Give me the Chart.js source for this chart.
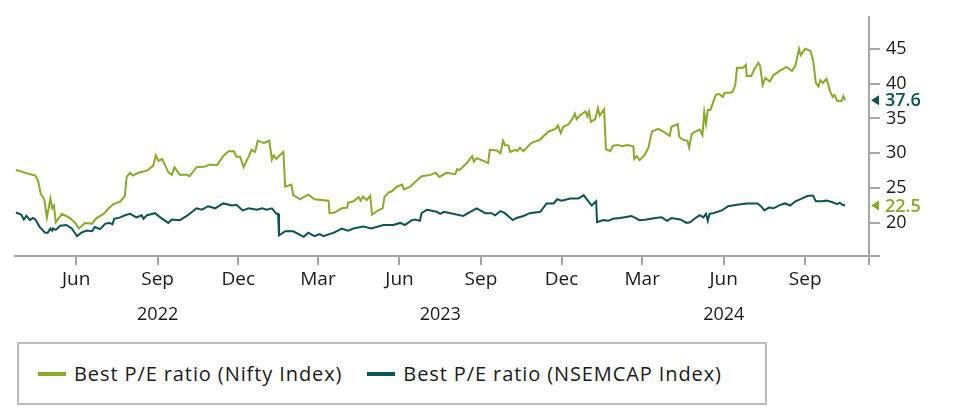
<!DOCTYPE html>
<html>
<head>
<meta charset="utf-8">
<script src="https://cdn.jsdelivr.net/npm/chart.js@4.4.1/dist/chart.umd.min.js"></script>
<style>
  html, body { margin: 0; padding: 0; background: #fff; }
  body { width: 953px; height: 417px; position: relative; overflow: hidden; font-family: "Open Sans", sans-serif; }
  #wrap { position: absolute; left: 0; top: 0; width: 953px; height: 335px; }
  .legend {
    position: absolute; left: 17px; top: 342px; width: 750px; height: 63px;
    box-sizing: border-box; border: 2px solid #bdbdbd;
    display: flex; align-items: center; padding-left: 19px;
    font-size: 20px; letter-spacing: 0.9px; color: #1a1a1a;
  }
  .legend .item { display: flex; align-items: center; margin-right: 25px; white-space: nowrap; }
  .legend .sw { width: 28px; height: 4px; margin-right: 8px; }
</style>
</head>
<body>
<div id="wrap"><canvas id="chart"></canvas></div>
<div class="legend">
  <div class="item"><span class="sw" style="background:#89aa28"></span>Best P/E ratio (Nifty Index)</div>
  <div class="item"><span class="sw" style="background:#0b5354"></span>Best P/E ratio (NSEMCAP Index)</div>
</div>
<script>
const GREEN = '#89aa28';
const TEAL = '#0b5354';

// Best P/E ratio (Nifty Index)
const niftyDates = [
  '2022-03-25','2022-04-02','2022-04-10','2022-04-16','2022-04-19','2022-04-22','2022-04-26','2022-04-29',
  '2022-05-03','2022-05-05','2022-05-07','2022-05-09','2022-05-16','2022-05-25','2022-05-31','2022-06-04',
  '2022-06-11','2022-06-19','2022-06-24','2022-07-02','2022-07-07','2022-07-13','2022-07-21','2022-07-26',
  '2022-07-28','2022-08-01','2022-08-04','2022-08-10','2022-08-20','2022-08-27','2022-08-30','2022-09-02',
  '2022-09-06','2022-09-13','2022-09-17','2022-09-20','2022-09-26','2022-10-04','2022-10-07','2022-10-15',
  '2022-10-25','2022-10-30','2022-11-07','2022-11-14','2022-11-20','2022-11-26','2022-11-29','2022-12-03',
  '2022-12-07','2022-12-13','2022-12-16','2022-12-20','2022-12-23','2022-12-30','2023-01-05','2023-01-08',
  '2023-01-10','2023-01-13','2023-01-16','2023-01-21','2023-01-23','2023-01-30','2023-02-01','2023-02-09',
  '2023-02-18','2023-02-25','2023-03-13','2023-03-14','2023-03-20','2023-03-28','2023-04-03','2023-04-04',
  '2023-04-10','2023-04-16','2023-04-18','2023-04-21','2023-04-25','2023-04-29','2023-05-01','2023-05-08',
  '2023-05-13','2023-05-15','2023-05-20','2023-05-23','2023-05-29','2023-06-04','2023-06-06','2023-06-13',
  '2023-06-19','2023-06-26','2023-07-06','2023-07-12','2023-07-16','2023-07-24','2023-08-03','2023-08-05',
  '2023-08-08','2023-08-16','2023-08-22','2023-08-24','2023-08-27','2023-09-04','2023-09-09','2023-09-11',
  '2023-09-19','2023-09-23','2023-09-26','2023-09-28','2023-10-02','2023-10-04','2023-10-10','2023-10-12',
  '2023-10-15','2023-10-19','2023-10-28','2023-11-06','2023-11-16','2023-11-24','2023-11-27','2023-11-30',
  '2023-12-03','2023-12-09','2023-12-13','2023-12-16','2023-12-18','2023-12-22','2023-12-28','2023-12-30',
  '2024-01-01','2024-01-03','2024-01-08','2024-01-11','2024-01-13','2024-01-18','2024-01-20','2024-01-25',
  '2024-01-28','2024-02-03','2024-02-07','2024-02-13','2024-02-20','2024-02-21','2024-02-24','2024-02-27',
  '2024-03-04','2024-03-08','2024-03-10','2024-03-12','2024-03-19','2024-03-25','2024-04-01','2024-04-03',
  '2024-04-10','2024-04-12','2024-04-17','2024-04-21','2024-04-23','2024-04-26','2024-04-30','2024-05-05',
  '2024-05-08','2024-05-10','2024-05-12','2024-05-14','2024-05-17','2024-05-20','2024-05-23','2024-05-27',
  '2024-05-31','2024-06-02','2024-06-08','2024-06-11','2024-06-14','2024-06-16','2024-06-23','2024-06-26',
  '2024-06-27','2024-07-02','2024-07-05','2024-07-10','2024-07-12','2024-07-15','2024-07-18','2024-07-23',
  '2024-07-27','2024-08-04','2024-08-11','2024-08-14','2024-08-17','2024-08-21','2024-08-25','2024-08-27',
  '2024-09-01','2024-09-07','2024-09-10','2024-09-13','2024-09-16','2024-09-18','2024-09-21','2024-09-25',
  '2024-09-27','2024-09-29','2024-10-02','2024-10-04','2024-10-07','2024-10-12','2024-10-14','2024-10-16'
];
const niftyValues = [
  27.6,27.3,27.0,26.8,26.1,24.2,23.4,20.8,
  23.5,22.1,22.5,20.1,21.3,20.7,20.0,19.2,
  20.0,19.9,20.7,21.3,22.0,22.7,23.1,23.9,
  26.6,27.2,26.8,27.2,27.5,28.2,29.7,28.9,
  29.2,27.3,26.9,28.0,26.9,26.9,26.7,28.0,
  28.1,28.4,28.3,29.6,30.3,30.3,29.5,29.5,
  28.0,29.6,30.5,30.2,31.8,31.5,31.8,29.1,
  29.7,29.2,29.6,30.2,25.2,25.5,24.0,23.4,
  24.1,23.4,23.2,21.4,21.5,22.1,22.2,22.9,
  23.1,23.7,23.2,23.8,23.3,23.9,21.2,21.8,
  22.1,23.7,24.4,24.5,25.2,25.5,24.8,25.2,
  25.9,26.7,26.9,27.2,26.6,27.2,27.0,27.7,
  27.6,28.6,29.6,28.8,29.3,28.9,28.6,30.5,
  30.4,30.0,31.8,31.2,31.1,30.2,30.5,30.3,
  30.8,30.3,31.5,31.9,33.1,33.5,34.0,32.9,
  33.8,34.2,34.9,35.7,34.9,35.5,36.0,35.3,
  36.0,34.5,34.9,36.5,35.4,36.3,30.6,30.3,
  31.1,31.2,31.0,31.2,31.0,29.2,29.6,29.0,
  29.8,30.8,32.0,33.1,33.5,33.1,32.5,33.8,
  34.2,32.3,31.9,31.8,30.8,32.8,33.1,33.4,
  32.6,35.9,34.2,36.2,36.2,37.3,38.4,38.5,
  38.1,38.7,38.7,38.8,39.8,42.3,42.3,42.7,
  41.1,41.1,41.9,43.0,42.6,39.8,40.8,40.3,
  41.2,41.9,42.4,42.1,41.8,42.6,45.0,44.1,
  45.0,44.7,43.3,40.1,39.6,40.5,40.1,40.7,
  39.9,38.9,38.1,38.4,37.5,37.5,38.2,37.6
];

// Best P/E ratio (NSEMCAP Index)
const midcapDates = [
  '2022-03-25','2022-03-31','2022-04-03','2022-04-06','2022-04-10','2022-04-13','2022-04-16','2022-04-21',
  '2022-04-27','2022-04-30','2022-05-03','2022-05-05','2022-05-06','2022-05-09','2022-05-14','2022-05-21',
  '2022-05-27','2022-06-02','2022-06-07','2022-06-13','2022-06-19','2022-06-22','2022-06-28','2022-07-04',
  '2022-07-09','2022-07-12','2022-07-14','2022-07-21','2022-07-26','2022-08-01','2022-08-08','2022-08-14',
  '2022-08-16','2022-08-20','2022-08-29','2022-09-04','2022-09-13','2022-09-17','2022-09-26','2022-10-04',
  '2022-10-15','2022-10-21','2022-10-28','2022-11-05','2022-11-14','2022-11-24','2022-11-29','2022-12-06',
  '2022-12-13','2022-12-22','2022-12-28','2023-01-02','2023-01-08','2023-01-13','2023-01-15','2023-01-16',
  '2023-01-23','2023-02-01','2023-02-13','2023-02-18','2023-02-25','2023-03-03','2023-03-07','2023-03-19',
  '2023-03-28','2023-04-04','2023-04-10','2023-04-21','2023-04-30','2023-05-14','2023-05-25','2023-06-02',
  '2023-06-07','2023-06-15','2023-06-19','2023-06-24','2023-06-26','2023-07-02','2023-07-13','2023-07-17',
  '2023-07-21','2023-08-12','2023-08-27','2023-09-06','2023-09-13','2023-09-17','2023-09-23','2023-09-28',
  '2023-10-07','2023-10-11','2023-10-19','2023-10-26','2023-11-07','2023-11-14','2023-11-22','2023-11-26',
  '2023-12-01','2023-12-11','2023-12-20','2023-12-26','2023-12-30','2024-01-04','2024-01-09','2024-01-10',
  '2024-01-17','2024-01-23','2024-01-28','2024-02-05','2024-02-10','2024-02-18','2024-02-27','2024-03-06',
  '2024-03-16','2024-03-23','2024-03-29','2024-04-03','2024-04-13','2024-04-20','2024-04-24','2024-04-30',
  '2024-05-05','2024-05-09','2024-05-12','2024-05-14','2024-05-16','2024-05-20','2024-05-30','2024-06-06',
  '2024-06-16','2024-06-27','2024-07-05','2024-07-09','2024-07-13','2024-07-17','2024-07-22','2024-07-27',
  '2024-08-04','2024-08-09','2024-08-15','2024-08-21','2024-08-28','2024-09-04','2024-09-10','2024-09-13',
  '2024-09-20','2024-09-25','2024-10-01','2024-10-07','2024-10-10','2024-10-13','2024-10-16'
];
const midcapValues = [
  21.5,21.2,20.5,21.0,20.4,20.7,20.5,19.4,
  18.6,18.6,19.2,18.9,19.2,19.0,19.6,19.7,
  19.2,18.1,18.6,18.9,18.8,19.4,19.1,19.9,
  20.0,19.8,20.6,20.8,21.1,21.3,20.8,21.1,
  20.6,21.1,21.4,20.8,20.0,20.5,20.4,21.0,
  22.1,21.9,22.4,22.1,22.8,22.5,22.6,21.8,
  22.1,21.9,22.1,21.9,22.1,21.3,21.3,18.2,
  18.8,18.8,18.0,18.6,18.1,18.4,18.1,18.6,
  19.2,18.9,19.2,19.5,19.2,19.7,19.7,20.0,
  19.7,20.4,20.5,20.3,21.4,21.9,21.6,21.3,
  21.6,21.0,22.1,21.4,21.4,21.1,21.7,21.4,
  20.4,20.7,21.0,21.4,21.6,22.8,22.8,23.4,
  23.2,23.5,23.5,24.0,23.3,22.5,23.1,20.1,
  20.4,20.3,20.6,20.7,20.8,21.0,20.4,20.5,
  20.7,20.8,20.3,20.7,20.5,20.0,20.1,20.7,
  21.1,20.8,21.3,20.3,21.3,21.4,21.8,22.4,
  22.6,22.8,22.8,22.8,22.4,21.8,22.2,22.1,
  22.6,22.8,22.5,23.1,23.5,23.9,23.9,23.1,
  23.1,23.2,23.0,22.7,22.9,22.6,22.5
];

// axes
const xMin = '2022-03-24';
const xMax = '2024-11-12';
const monthTickDates = ['2022-06-01','2022-09-01','2022-12-01','2023-03-01','2023-06-01','2023-09-01',
                        '2023-12-01','2024-03-01','2024-06-01','2024-09-01'];
const monthTickLabels = ['Jun','Sep','Dec','Mar','Jun','Sep','Dec','Mar','Jun','Sep'];
const yearLabels = ['2022','2023','2024'];
const yearLabelDates = ['2022-09-01','2023-07-17','2024-06-01'];
const yMin = 15.25, yMax = 49.6;
const yTicks = [20, 25, 30, 35, 40, 45];

const t = d => Date.parse(d);
const toPoints = (dates, vals) => dates.map((d, i) => ({ x: t(d), y: vals[i] }));

const FONT = '"Open Sans", sans-serif';

const extraLabels = {
  id: 'extraLabels',
  afterDraw(chart) {
    const { ctx, chartArea, scales } = chart;
    ctx.save();
    // year row
    ctx.fillStyle = '#1a1a1a';
    ctx.font = '18px ' + FONT;
    ctx.textAlign = 'center';
    ctx.textBaseline = 'middle';
    yearLabels.forEach((lab, i) => {
      ctx.fillText(lab, scales.x.getPixelForValue(t(yearLabelDates[i])), chartArea.bottom + 59);
    });
    // last values on the right axis
    const endColors = [TEAL, GREEN];
    chart.data.datasets.forEach((ds, i) => {
      const last = ds.data[ds.data.length - 1].y;
      const y = scales.y.getPixelForValue(last);
      const x0 = chartArea.right + 2;
      ctx.fillStyle = endColors[i];
      ctx.beginPath();
      ctx.moveTo(x0, y);
      ctx.lineTo(x0 + 8, y - 5);
      ctx.lineTo(x0 + 8, y + 5);
      ctx.closePath();
      ctx.fill();
      ctx.font = '600 18px ' + FONT;
      ctx.textAlign = 'left';
      ctx.fillText(last.toFixed(1), chartArea.right + 16, y + 1);
    });
    ctx.restore();
  }
};

new Chart(document.getElementById('chart'), {
  type: 'line',
  data: {
    datasets: [
      { label: 'Best P/E ratio (Nifty Index)', data: toPoints(niftyDates, niftyValues),
        borderColor: GREEN, borderWidth: 2, pointRadius: 0, tension: 0 },
      { label: 'Best P/E ratio (NSEMCAP Index)', data: toPoints(midcapDates, midcapValues),
        borderColor: TEAL, borderWidth: 2, pointRadius: 0, tension: 0 }
    ]
  },
  options: {
    responsive: true,
    maintainAspectRatio: false,
    animation: false,
    layout: { padding: { left: 15, top: 10, right: 0, bottom: 0 } },
    plugins: { legend: { display: false }, tooltip: { enabled: false } },
    scales: {
      x: {
        type: 'linear',
        min: t(xMin),
        max: t(xMax),
        border: { display: true, color: '#a6a6a6', width: 2 },
        grid: { drawOnChartArea: false, drawTicks: true, tickLength: 9, color: '#a6a6a6', lineWidth: 2 },
        ticks: {
          autoSkip: false, maxRotation: 0, padding: 3, color: '#1a1a1a',
          font: { family: FONT, size: 19 },
          callback: v => {
            const i = monthTickDates.findIndex(d => t(d) === v);
            return i >= 0 ? monthTickLabels[i] : '';
          }
        },
        afterBuildTicks: s => { s.ticks = [...monthTickDates.map(t), t(xMax)].map(v => ({ value: v })); },
        afterFit: s => { s.height = 79; }
      },
      y: {
        position: 'right',
        min: yMin,
        max: yMax,
        border: { display: true, color: '#a6a6a6', width: 2 },
        grid: { drawOnChartArea: false, drawTicks: true, tickLength: 11, color: '#a6a6a6', lineWidth: 2 },
        ticks: {
          padding: 6, color: '#1a1a1a',
          font: { family: FONT, size: 18 },
          callback: v => (yTicks.includes(v) ? String(v) : '')
        },
        afterBuildTicks: s => { s.ticks = [yMin, ...yTicks].map(v => ({ value: v })); },
        afterFit: s => { s.width = 84; }
      }
    }
  },
  plugins: [extraLabels]
});
</script>
</body>
</html>
